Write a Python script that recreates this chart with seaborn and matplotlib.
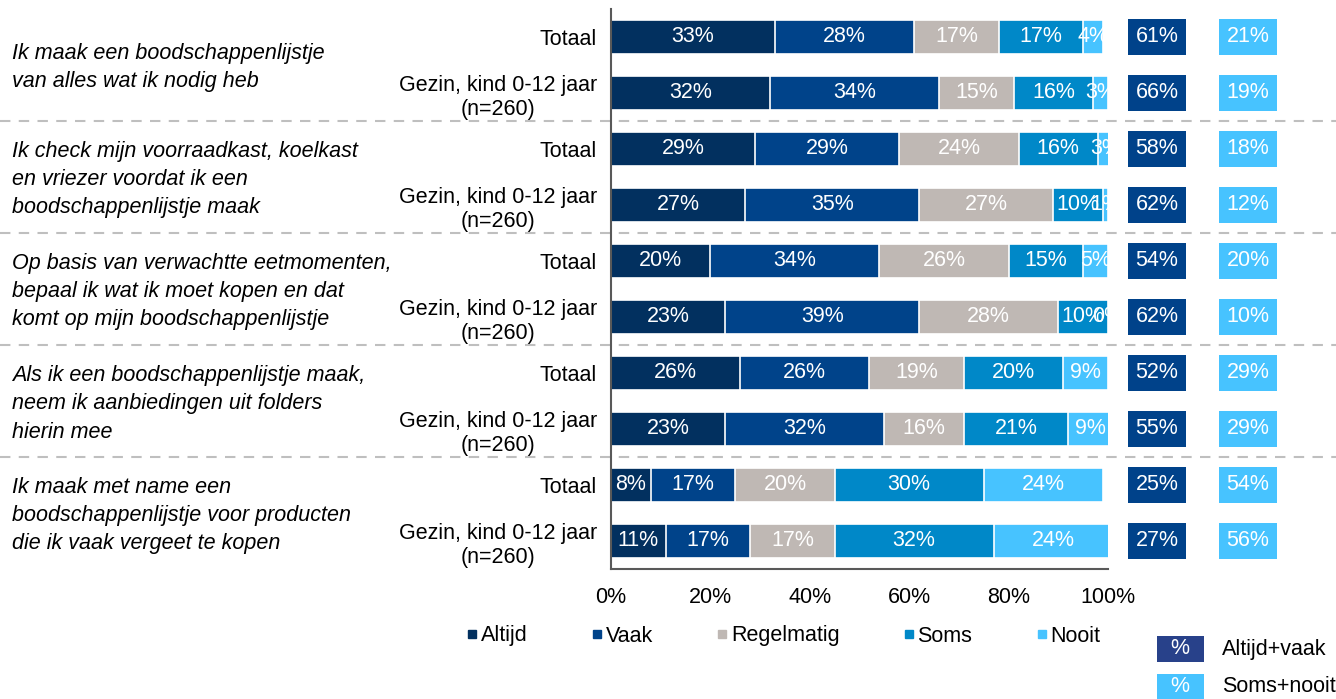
import matplotlib
matplotlib.use("Agg")
import matplotlib.pyplot as plt
from matplotlib.lines import Line2D
from matplotlib.patches import Rectangle
from matplotlib.transforms import blended_transform_factory
import numpy as np
import pandas as pd
import seaborn as sns

QUESTIONS = [
    "Ik maak een boodschappenlijstje\nvan alles wat ik nodig heb",
    "Ik check mijn voorraadkast, koelkast\nen vriezer voordat ik een\nboodschappenlijstje maak",
    "Op basis van verwachtte eetmomenten,\nbepaal ik wat ik moet kopen en dat\nkomt op mijn boodschappenlijstje",
    "Als ik een boodschappenlijstje maak,\nneem ik aanbiedingen uit folders\nhierin mee",
    "Ik maak met name een\nboodschappenlijstje voor producten\ndie ik vaak vergeet te kopen",
]
GROUPS = ["Totaal", "Gezin, kind 0-12 jaar\n(n=260)"]
ANSWERS = ["Altijd", "Vaak", "Regelmatig", "Soms", "Nooit"]

ALTIJD = [33, 32, 29, 27, 20, 23, 26, 23, 8, 11]
VAAK = [28, 34, 29, 35, 34, 39, 26, 32, 17, 17]
REGELMATIG = [17, 15, 24, 27, 26, 28, 19, 16, 20, 17]
SOMS = [17, 16, 16, 10, 15, 10, 20, 21, 30, 32]
NOOIT = [4, 3, 3, 1, 5, 0, 9, 9, 24, 24]
ALTIJD_VAAK = [61, 66, 58, 62, 54, 62, 52, 55, 25, 27]
SOMS_NOOIT = [21, 19, 18, 12, 20, 10, 29, 29, 54, 56]

COLORS = ["#02305F", "#00438A", "#BFB8B4", "#0088C8", "#47C3FF"]
DARK_BOX = "#00428A"
LEGEND_DARK = "#28418A"
LIGHT_BOX = "#47C3FF"
FS = 15.5


def main():
    sns.set_style("white")
    plt.rcParams["font.family"] = ["Liberation Sans", "DejaVu Sans"]
    plt.rcParams["text.color"] = "black"

    values = np.array([ALTIJD, VAAK, REGELMATIG, SOMS, NOOIT])
    cum = values.cumsum(axis=0)
    rows = [f"{q}-{g}" for q in range(len(QUESTIONS)) for g in range(len(GROUPS))]
    df = pd.DataFrame({"row": rows})
    for k in range(len(ANSWERS)):
        df[f"cum{k}"] = cum[k]

    fig = plt.figure(figsize=(13.36, 6.99), dpi=100)
    ax = fig.add_axes([611 / 1336, 130 / 699, 497 / 1336, 560 / 699])

    # stacked bars: draw cumulative totals from the back to the front
    for k in reversed(range(len(ANSWERS))):
        sns.barplot(
            data=df, x=f"cum{k}", y="row", orient="h",
            color=COLORS[k], saturation=1, width=0.6,
            edgecolor="white", linewidth=1.2, ax=ax,
        )

    for i in range(len(rows)):
        start = 0
        for k in range(len(ANSWERS)):
            v = values[k, i]
            ax.text(start + v / 2, i, f"{v}%", ha="center", va="center",
                    color="white", fontsize=FS)
            start += v

    trans = blended_transform_factory(fig.transFigure, ax.transData)
    for i in range(len(rows)):
        ax.text(1157 / 1336, i, f"{ALTIJD_VAAK[i]}%", transform=trans,
                ha="center", va="center", color="white", fontsize=FS,
                bbox=dict(boxstyle="square,pad=0.35", fc=DARK_BOX, ec="none"))
        ax.text(1248 / 1336, i, f"{SOMS_NOOIT[i]}%", transform=trans,
                ha="center", va="center", color="white", fontsize=FS,
                bbox=dict(boxstyle="square,pad=0.35", fc=LIGHT_BOX, ec="none"))

    for q, text in enumerate(QUESTIONS):
        ax.text(12 / 1336, 2 * q + 0.55, text, transform=trans, ha="left",
                va="center", style="italic", fontsize=FS, linespacing=1.45)
        if q > 0:
            ax.plot([0, 1], [2 * q - 0.5] * 2, transform=trans, clip_on=False,
                    color="#BFBFBF", ls=(0, (5, 4)), lw=1.5)

    ax.set_xlim(0, 100)
    ax.set_ylim(len(rows) - 0.5, -0.5)
    ax.set_xticks(range(0, 101, 20))
    ax.set_xticklabels([f"{t}%" for t in range(0, 101, 20)], fontsize=FS)
    ax.set_yticks(range(len(rows)))
    ax.set_yticklabels(GROUPS * len(QUESTIONS), fontsize=FS)
    for t in ax.get_yticklabels():
        t.set_multialignment("center")
        t.set_linespacing(1.2)
    ax.set_yticks(np.arange(-0.5, len(rows), 1), minor=True)
    ax.tick_params(axis="y", which="major", length=0, pad=10,
                   labelcolor="black")
    ax.tick_params(axis="y", which="minor", length=6, width=1.2,
                   color="#595959", direction="out")
    ax.tick_params(axis="x", length=5, width=1.2, color="#595959",
                   direction="out", pad=8, labelcolor="black")
    ax.set_xlabel("")
    ax.set_ylabel("")
    sns.despine(ax=ax)
    for side in ["left", "bottom"]:
        ax.spines[side].set_color("#595959")
        ax.spines[side].set_linewidth(1.5)

    handles = [Line2D([], [], marker="s", ls="none", color=c, markersize=6)
               for c in COLORS]
    fig.legend(handles, ANSWERS, loc="center left",
               bbox_to_anchor=(467 / 1336, 1 - 636 / 699),
               frameon=False, ncol=5, handlelength=0.5, handletextpad=0.15,
               columnspacing=2.97, fontsize=FS, borderpad=0, borderaxespad=0,
               labelcolor="black")

    for y_top, color, label in [(636, LEGEND_DARK, "Altijd+vaak"),
                                (674, LIGHT_BOX, "Soms+nooit")]:
        fig.add_artist(Rectangle((1157 / 1336, 1 - (y_top + 26) / 699),
                                 47 / 1336, 26 / 699, transform=fig.transFigure,
                                 fc=color, ec="none"))
        fig.text(1180 / 1336, 1 - (y_top + 13) / 699, "%", ha="center",
                 va="center", color="white", fontsize=FS)
        fig.text(1222 / 1336, 1 - (y_top + 13) / 699, label, ha="left",
                 va="center", fontsize=FS)

    fig.savefig("out.png", dpi=100)
    plt.close(fig)


if __name__ == "__main__":
    main()
